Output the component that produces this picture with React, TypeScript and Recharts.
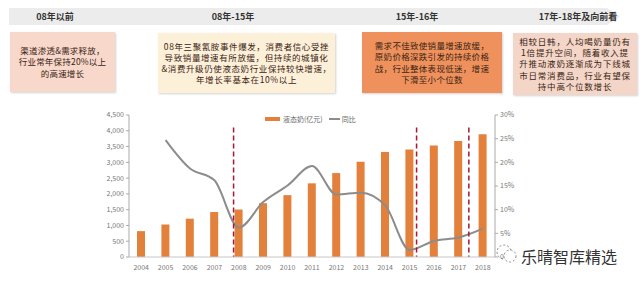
import React from "react";
import {
  ComposedChart,
  Bar,
  Line,
  XAxis,
  YAxis,
  Legend,
  ReferenceLine,
} from "recharts";

const years = [
  "2004", "2005", "2006", "2007", "2008", "2009", "2010", "2011",
  "2012", "2013", "2014", "2015", "2016", "2017", "2018",
];
const sales = [820, 1030, 1215, 1425, 1505, 1705, 1960, 2335, 2660, 3020, 3330, 3410, 3530, 3675, 3890];
const yoy = [null, 24.7, 18.7, 16.2, 6.2, 11.6, 15.1, 19.2, 13.2, 13.6, 10.9, 1.5, 3.4, 4.1, 6.0];

const leftTicks = [0, 500, 1000, 1500, 2000, 2500, 3000, 3500, 4000, 4500];
const rightTicks = [0, 5, 10, 15, 20, 25, 30];
// dashed phase separators, in category units (between 07/08, 14/15, 16/17)
const splits = [4, 11, 13];

const phases = ["08年以前", "08年-15年", "15年-16年", "17年-18年及向前看"];
const notes = [
  ["渠道渗透&需求释放，", "行业常年保持20%以上", "的高速增长"],
  [
    "08年三聚氰胺事件爆发，消费者信心受挫",
    "导致销量增速有所放缓，但持续的城镇化",
    "&消费升级仍使液态奶行业保持较快增速，",
    "年增长率基本在10%以上",
  ],
  [
    "需求不佳致使销量增速放缓，",
    "原奶价格深跌引发的持续价格",
    "战，行业整体表现低迷，增速",
    "下滑至小个位数",
  ],
  [
    "相较日韩，人均喝奶量仍有",
    "1倍提升空间，随着收入提",
    "升推动液奶逐渐成为下线城",
    "市日常消费品，行业有望保",
    "持中高个位数增长",
  ],
];

const phaseX = [55, 233, 417, 578];
const boxes = [
  { left: 10, top: 32, width: 105, height: 60, bg: "#f8d8cb", ls: 0.2 },
  { left: 158, top: 33, width: 177, height: 60, bg: "#fdf0d9", ls: 0.6 },
  { left: 362, top: 32, width: 140, height: 61, bg: "#ef915c", ls: 0.3 },
  { left: 513, top: 33, width: 124, height: 62, bg: "#f3d6c7", ls: 0.8 },
];

const FONT = "'Noto Sans CJK SC', 'Noto Sans', sans-serif";
const BAR = "#e3803c";
const LINE = "#8c8c8c";

const data = years.map((y, i) => ({ year: y, sales: sales[i], yoy: yoy[i] }));

const renderLegend = () => (
  <div style={{ display: "flex", alignItems: "center", fontSize: 7, color: "#666", fontFamily: FONT }}>
    <span style={{ width: 15, height: 4, background: BAR, marginRight: 3 }} />
    <span>液态奶(亿元)</span>
    <span style={{ width: 11, height: 2, background: LINE, margin: "0 2px 0 6px" }} />
    <span>同比</span>
  </div>
);

export default function App() {
  return (
    <div style={{ position: "relative", width: 640, height: 281, background: "#fff", fontFamily: FONT, overflow: "hidden" }}>
      <style>{`body{margin:0}`}</style>

      <svg width={640} height={30} style={{ position: "absolute", left: 0, top: 0 }}>
        <polygon points="9,8 607,8 620,16.5 607,25 9,25" fill="#ececec" />
      </svg>
      {phases.map((p, i) => (
        <div
          key={p}
          style={{
            position: "absolute",
            left: phaseX[i] - 60,
            width: 120,
            top: 9,
            textAlign: "center",
            fontSize: 9,
            fontWeight: 700,
            color: "#333",
            lineHeight: "15px",
          }}
        >
          {p}
        </div>
      ))}

      {boxes.map((b, i) => (
        <div
          key={i}
          style={{
            position: "absolute",
            left: b.left,
            top: b.top,
            width: b.width,
            height: b.height,
            background: b.bg,
            boxShadow: "1px 1px 2px rgba(0,0,0,0.18)",
            display: "flex",
            flexDirection: "column",
            justifyContent: "center",
            alignItems: "center",
            fontSize: 8.5,
            lineHeight: "11.2px",
            letterSpacing: b.ls,
            color: "#3a2414",
          }}
        >
          {notes[i].map((l) => (
            <div key={l} style={{ whiteSpace: "nowrap" }}>{l}</div>
          ))}
        </div>
      ))}

      <div style={{ position: "absolute", left: 0, top: 0 }}>
        <ComposedChart
          width={640}
          height={281}
          data={data}
          margin={{ top: 115, left: 89, right: 115, bottom: 5 }}
        >
          <XAxis
            xAxisId="cat"
            dataKey="year"
            height={19}
            tick={{ fontSize: 7, fill: "#777" }}
            tickLine={false}
            axisLine={{ stroke: "#c8c8c8" }}
            interval={0}
          />
          <XAxis xAxisId="num" type="number" domain={[0, 15]} hide allowDataOverflow />
          <YAxis
            yAxisId="left"
            width={40}
            domain={[0, 4500]}
            ticks={leftTicks}
            tick={{ fontSize: 7, fill: "#777" }}
            tickSize={3}
            tickLine={{ stroke: "#aaa" }}
            axisLine={{ stroke: "#aaa" }}
            tickFormatter={(v) => Number(v).toLocaleString("en-US")}
          />
          <YAxis
            yAxisId="right"
            orientation="right"
            width={30}
            domain={[0, 30]}
            ticks={rightTicks}
            tick={{ fontSize: 7, fill: "#777" }}
            tickSize={3}
            tickLine={{ stroke: "#aaa" }}
            axisLine={{ stroke: "#aaa" }}
            tickFormatter={(v) => `${v}%`}
          />
          <Legend
            layout="horizontal"
            verticalAlign="middle"
            align="center"
            content={renderLegend}
            wrapperStyle={{ position: "absolute", top: 114, left: 265, width: 100, height: 10 }}
          />
          <Bar
            xAxisId="cat"
            yAxisId="left"
            dataKey="sales"
            fill={BAR}
            barSize={8}
            isAnimationActive={false}
          />
          <Line
            xAxisId="cat"
            yAxisId="right"
            dataKey="yoy"
            type="monotone"
            stroke={LINE}
            strokeWidth={2}
            dot={false}
            isAnimationActive={false}
          />
          {splits.map((s) => (
            <ReferenceLine
              key={s}
              xAxisId="num"
              yAxisId="left"
              segment={[{ x: s, y: 4100 }, { x: s, y: 0 }]}
              stroke="#a8172f"
              strokeWidth={1.5}
              strokeDasharray="5 3"
            />
          ))}
        </ComposedChart>
      </div>

      <svg width={26} height={24} style={{ position: "absolute", left: 494, top: 242 }}>
        <circle cx={10} cy={10} r={7} fill="none" stroke="#888" strokeDasharray="2 2" />
        <circle cx={16} cy={14} r={6} fill="#fff" stroke="#888" strokeDasharray="2 2" />
      </svg>
      <div
        style={{
          position: "absolute",
          left: 521,
          top: 244,
          fontSize: 16,
          color: "#333",
          textShadow: "0 0 2px #fff, 0 0 2px #fff",
          whiteSpace: "nowrap",
        }}
      >
        乐晴智库精选
      </div>
    </div>
  );
}
